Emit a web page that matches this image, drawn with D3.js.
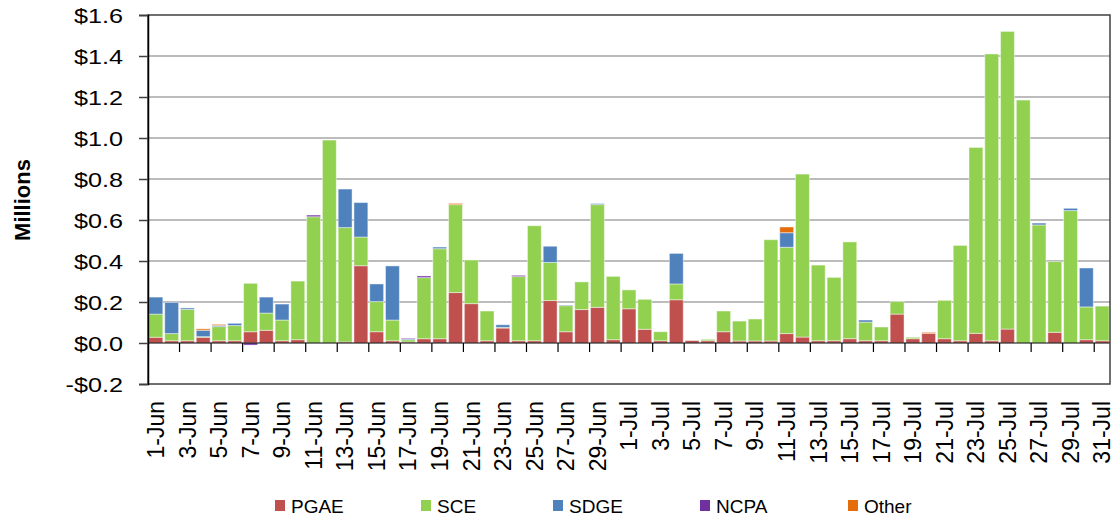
<!DOCTYPE html>
<html>
<head>
<meta charset="utf-8">
<script src="https://cdn.jsdelivr.net/npm/d3@7"></script>
<style>
  html, body { margin: 0; padding: 0; background: #fff; }
  svg { display: block; font-family: "Liberation Sans", Arial, sans-serif; }
</style>
</head>
<body>
<svg id="chart" width="1119" height="520"></svg>
<script>
// Daily costs by utility, in millions of dollars
const days = [
  "1-Jun","2-Jun","3-Jun","4-Jun","5-Jun","6-Jun","7-Jun","8-Jun","9-Jun","10-Jun",
  "11-Jun","12-Jun","13-Jun","14-Jun","15-Jun","16-Jun","17-Jun","18-Jun","19-Jun","20-Jun",
  "21-Jun","22-Jun","23-Jun","24-Jun","25-Jun","26-Jun","27-Jun","28-Jun","29-Jun","30-Jun",
  "1-Jul","2-Jul","3-Jul","4-Jul","5-Jul","6-Jul","7-Jul","8-Jul","9-Jul","10-Jul",
  "11-Jul","12-Jul","13-Jul","14-Jul","15-Jul","16-Jul","17-Jul","18-Jul","19-Jul","20-Jul",
  "21-Jul","22-Jul","23-Jul","24-Jul","25-Jul","26-Jul","27-Jul","28-Jul","29-Jul","30-Jul","31-Jul"
];

const PGAE = [
  0.028,0.011,0.011,0.028,0.011,0.011,0.055,0.062,0.011,0.016,
  0.000,0.000,0.005,0.377,0.055,0.011,0.005,0.021,0.021,0.246,
  0.192,0.011,0.073,0.011,0.011,0.207,0.055,0.163,0.174,0.016,
  0.167,0.067,0.011,0.211,0.012,0.011,0.055,0.010,0.010,0.010,
  0.046,0.029,0.011,0.011,0.021,0.011,0.011,0.141,0.021,0.047,
  0.021,0.011,0.047,0.011,0.068,0.000,0.000,0.052,0.000,0.016,0.011
];

const SCE = [
  0.113,0.035,0.153,0.003,0.069,0.074,0.236,0.084,0.101,0.286,
  0.616,0.990,0.558,0.140,0.147,0.101,0.011,0.298,0.439,0.429,
  0.213,0.145,0.003,0.313,0.561,0.186,0.127,0.135,0.501,0.309,
  0.092,0.146,0.044,0.077,0.000,0.007,0.101,0.097,0.107,0.494,
  0.421,0.795,0.369,0.309,0.472,0.091,0.067,0.061,0.007,0.000,
  0.187,0.465,0.907,1.399,1.452,1.185,0.576,0.345,0.646,0.160,0.169
];

const SDGE = [
  0.083,0.152,0.007,0.031,0.006,0.011,0.000,0.078,0.078,0.000,
  0.000,0.000,0.188,0.168,0.086,0.264,0.005,0.000,0.008,0.000,
  0.000,0.000,0.013,0.000,0.000,0.079,0.003,0.000,0.005,0.000,
  0.000,0.000,0.000,0.149,0.000,0.000,0.000,0.000,0.000,0.000,
  0.071,0.000,0.000,0.000,0.000,0.010,0.000,0.000,0.000,0.000,
  0.000,0.000,0.000,0.000,0.000,0.000,0.009,0.000,0.011,0.190,0.000
];

const NCPA = [
  0,0,0,0,0,0,-0.010,0,0,0,
  0.008,0,0,0,0,0,0.003,0.008,0,0,
  0,0,0,0.006,0,0,0,0,0,0,
  0,0,0,0,0,0,0,0,0,0,
  0,0,0,0,0,0,0,0,0,0,
  0,0,0,0,0,0,0,0,0,0,0
];

const Other = [
  0,0,0,0.007,0.005,0,0,0,0,0,
  0,0,0,0,0,0,0,0,0,0.006,
  0,0,0,0,0,0,0,0,0,0,
  0,0,0,0,0,0,0,0,0,0,
  0.028,0,0,0,0,0,0,0,0,0.005,
  0,0,0,0,0,0,0,0,0,0,0
];

const seriesNames = ["PGAE", "SCE", "SDGE", "NCPA", "Other"];
const seriesValues = { PGAE, SCE, SDGE, NCPA, Other };
const seriesColors = ["#C0504D", "#92D050", "#4F81BD", "#7030A0", "#E46C0A"];

const yTicks = [-0.2, 0.0, 0.2, 0.4, 0.6, 0.8, 1.0, 1.2, 1.4, 1.6];

// Plot frame
const plotLeft = 148, plotRight = 1110, plotTop = 15, plotBottom = 384;

const svg = d3.select("#chart");

const table = days.map((d, i) => {
  const row = { day: d };
  seriesNames.forEach(s => row[s] = seriesValues[s][i]);
  return row;
});

const x = d3.scaleBand().domain(days).range([plotLeft, plotRight]).paddingInner(0.12).paddingOuter(0.06);
const y = d3.scaleLinear().domain([-0.2, 1.6]).range([plotBottom, plotTop]);
const color = d3.scaleOrdinal().domain(seriesNames).range(seriesColors);

// Horizontal gridlines
svg.append("g")
  .selectAll("line")
  .data(yTicks.filter(t => t > -0.2 && t < 1.6 && t !== 0))
  .join("line")
  .attr("x1", plotLeft).attr("x2", plotRight)
  .attr("y1", d => y(d)).attr("y2", d => y(d))
  .attr("stroke", "#a6a6a6")
  .attr("stroke-width", 1.5);

// Stacked bars (negative values stack below zero)
const stacked = d3.stack().keys(seriesNames).offset(d3.stackOffsetDiverging)(table);

svg.append("g")
  .selectAll("g")
  .data(stacked)
  .join("g")
  .attr("fill", d => color(d.key))
  .selectAll("rect")
  .data(d => d.filter(p => p[1] !== p[0]))
  .join("rect")
  .attr("x", p => x(p.data.day))
  .attr("width", x.bandwidth())
  .attr("y", p => y(Math.max(p[0], p[1])))
  .attr("height", p => Math.abs(y(p[0]) - y(p[1])))
  .attr("stroke", "#ffffff")
  .attr("stroke-opacity", 0.45)
  .attr("stroke-width", 1);

// Zero line
svg.append("line")
  .attr("x1", plotLeft).attr("x2", plotRight)
  .attr("y1", y(0)).attr("y2", y(0))
  .attr("stroke", "#000").attr("stroke-width", 1.2);

// Plot border
svg.append("rect")
  .attr("x", plotLeft).attr("y", plotTop)
  .attr("width", plotRight - plotLeft).attr("height", plotBottom - plotTop)
  .attr("fill", "none")
  .attr("stroke", "#404040")
  .attr("stroke-width", 1.5);

// Y axis
const yAxis = svg.append("g")
  .attr("transform", `translate(${plotLeft},0)`)
  .call(d3.axisLeft(y).tickValues(yTicks).tickSize(9).tickPadding(0)
    .tickFormat(v => (v < 0 ? "-$" : "$") + Math.abs(v).toFixed(1)));
yAxis.select(".domain").attr("stroke", "#000").attr("stroke-width", 1.5);
yAxis.selectAll(".tick line").attr("stroke", "#404040").attr("stroke-width", 1.5);
yAxis.selectAll(".tick text")
  .attr("font-size", 21)
  .attr("font-family", "Liberation Sans, Arial, sans-serif")
  .attr("fill", "#000")
  .attr("x", null)
  .attr("dy", null)
  .attr("text-anchor", "end")
  .attr("dominant-baseline", "central")
  .attr("transform", "translate(-25,0) scale(1.2,1)");

// X axis: ticks between every second category, labels on every second day
const xAxis = svg.append("g").attr("transform", `translate(0,${y(0)})`);
const tickBounds = d3.range(2, days.length, 2).map(k => x(days[k]) - x.step() * x.paddingInner() / 2);
xAxis.selectAll("line")
  .data(tickBounds)
  .join("line")
  .attr("x1", d => d).attr("x2", d => d)
  .attr("y1", 0).attr("y2", 9)
  .attr("stroke", "#000").attr("stroke-width", 1.2);

svg.append("g")
  .selectAll("text")
  .data(days.filter((d, i) => i % 2 === 0))
  .join("text")
  .attr("transform", d => `translate(${x(d) + x.bandwidth() / 2},401) rotate(-90)`)
  .attr("text-anchor", "end")
  .attr("dy", "0.36em")
  .attr("font-size", 23)
  .attr("fill", "#000")
  .text(d => d);

// Y axis title
svg.append("text")
  .attr("transform", "translate(22,200) rotate(-90)")
  .attr("text-anchor", "middle")
  .attr("dy", "0.36em")
  .attr("font-size", 22)
  .attr("font-weight", "bold")
  .attr("fill", "#000")
  .text("Millions");

// Legend
const legendX = [275, 421, 553, 700, 848];
const legend = svg.append("g")
  .selectAll("g")
  .data(seriesNames)
  .join("g")
  .attr("transform", (d, i) => `translate(${legendX[i]},500)`);
legend.append("rect")
  .attr("width", 10).attr("height", 11)
  .attr("fill", d => color(d));
legend.append("text")
  .attr("x", 16).attr("y", 13)
  .attr("font-size", 19)
  .attr("fill", "#000")
  .text(d => d);
</script>
</body>
</html>
